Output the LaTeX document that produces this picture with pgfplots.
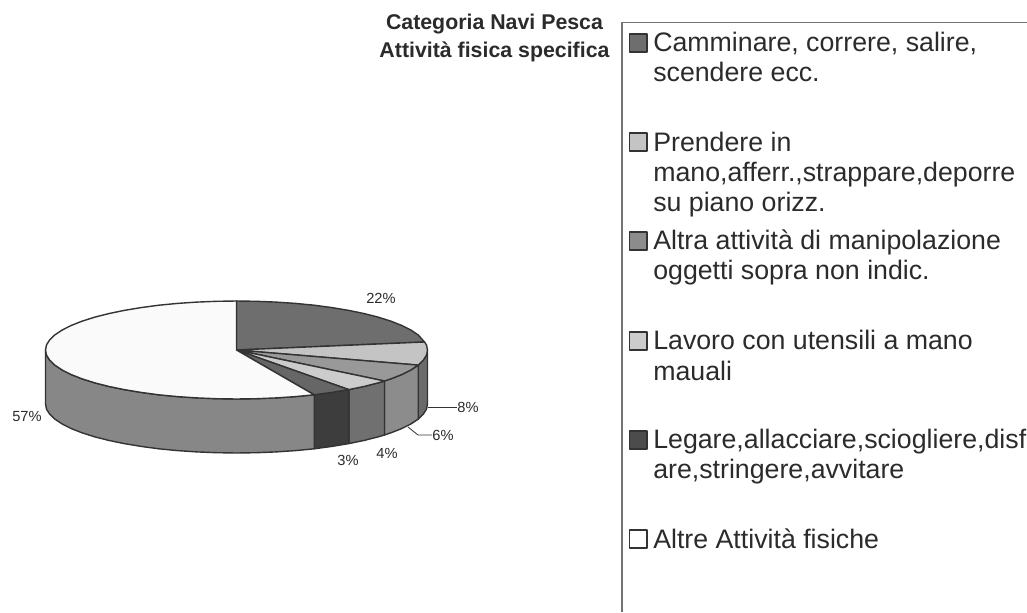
\documentclass[border=0pt]{standalone}
\usepackage{pgfplots}
\pgfplotsset{compat=1.18}
\usepackage{fontspec}
\setmainfont{Liberation Sans}
\definecolor{ink}{HTML}{2B2B2B}
\definecolor{edge}{HTML}{333333}
\newcommand{\lab}[3]{\node[anchor=base west,inner sep=0pt,font=\fontsize{20.05}{20.05}\selectfont,text=ink] at (axis cs:{#1-236.5},{350-#2}) {#3};}
\newcommand{\pct}[3]{\node[inner sep=0pt,font=\fontsize{11}{11}\selectfont,text=ink] at (axis cs:{#1-236.5},{350-#2}) {#3};}
\newcommand{\ttl}[2]{\node[anchor=base,inner sep=0pt,font=\fontsize{16}{16}\selectfont\bfseries,text=ink] at (axis cs:{494.5-236.5},{350-#1}) {#2};}
\begin{document}
\begin{tikzpicture}
\path[use as bounding box] (0,0) rectangle (770.25pt,459pt);
\begin{axis}[
  at={(0,0)},anchor=south west,scale only axis,width=770.25pt,height=459pt,
  xmin=-236.5,xmax=790.5,ymin=-262,ymax=350,hide axis,
  every axis plot/.style={draw=edge,line width=1.05pt,line join=round}]
% legend frame
\addplot[draw=black!55,line width=1.1pt] coordinates {(385.5,-262) (385.5,327.5) (790.5,327.5)};
% leader lines
\addplot[draw=edge,line width=0.6pt] coordinates {(191.5,-57) (220.5,-57)};
\addplot[draw=edge,line width=0.6pt] coordinates {(171.5,-77) (181.5,-85) (195.5,-85)};
% side walls
\addplot[fill=black!58] coordinates {(191,0)(190,-5.1)(186.8,-10.2)(181.7,-15.1)(181.7,-69.1)(186.8,-64.2)(190,-59.1)(191,-54)} -- cycle;
\addplot[fill=black!45] coordinates {(181.7,-15.1)(174.5,-19.9)(165.4,-24.5)(154.5,-28.8)(148,-31)(148,-85)(154.5,-82.8)(165.4,-78.5)(174.5,-73.9)(181.7,-69.1)} -- cycle;
\addplot[fill=black!56] coordinates {(148,-31)(141.9,-32.8)(127.8,-36.4)(112.3,-39.6)(112.3,-93.6)(127.8,-90.4)(141.9,-86.8)(148,-85)} -- cycle;
\addplot[fill=black!76] coordinates {(112.3,-39.6)(95.5,-42.4)(77.7,-44.8)(77.7,-98.8)(95.5,-96.4)(112.3,-93.6)} -- cycle;
\addplot[fill=black!47] coordinates {(77.7,-44.8)(59,-46.6)(39.7,-47.9)(20,-48.7)(0,-49)(-20,-48.7)(-39.7,-47.9)(-59,-46.6)(-77.7,-44.8)(-95.5,-42.4)(-112.3,-39.6)(-127.8,-36.4)(-141.9,-32.8)(-154.5,-28.8)(-165.4,-24.5)(-174.5,-19.9)(-181.7,-15.1)(-186.8,-10.2)(-190,-5.1)(-191,0)(-191,-54)(-190,-59.1)(-186.8,-64.2)(-181.7,-69.1)(-174.5,-73.9)(-165.4,-78.5)(-154.5,-82.8)(-141.9,-86.8)(-127.8,-90.4)(-112.3,-93.6)(-95.5,-96.4)(-77.7,-98.8)(-59,-100.6)(-39.7,-101.9)(-20,-102.7)(0,-103)(20,-102.7)(39.7,-101.9)(59,-100.6)(77.7,-98.8)} -- cycle;
% top wedges
\addplot[fill=black!57] coordinates {(0,0)(0,49)(20,48.7)(39.7,47.9)(59,46.6)(77.7,44.8)(95.5,42.4)(112.3,39.6)(127.8,36.4)(141.9,32.8)(154.5,28.8)(165.4,24.5)(174.5,19.9)(181.7,15.1)(188,8)} -- cycle;
\addplot[fill=black!23] coordinates {(0,0)(188,8)(190,5.1)(191,0)(190,-5.1)(186.8,-10.2)(181.7,-15.1)} -- cycle;
\addplot[fill=black!40] coordinates {(0,0)(181.7,-15.1)(174.5,-19.9)(165.4,-24.5)(154.5,-28.8)(148,-31)} -- cycle;
\addplot[fill=black!20] coordinates {(0,0)(148,-31)(141.9,-32.8)(127.8,-36.4)(112.3,-39.6)} -- cycle;
\addplot[fill=black!60] coordinates {(0,0)(112.3,-39.6)(95.5,-42.4)(77.7,-44.8)} -- cycle;
\addplot[fill=black!2] coordinates {(0,0)(77.7,-44.8)(59,-46.6)(39.7,-47.9)(20,-48.7)(0,-49)(-20,-48.7)(-39.7,-47.9)(-59,-46.6)(-77.7,-44.8)(-95.5,-42.4)(-112.3,-39.6)(-127.8,-36.4)(-141.9,-32.8)(-154.5,-28.8)(-165.4,-24.5)(-174.5,-19.9)(-181.7,-15.1)(-186.8,-10.2)(-190,-5.1)(-191,0)(-190,5.1)(-186.8,10.2)(-181.7,15.1)(-174.5,19.9)(-165.4,24.5)(-154.5,28.8)(-141.9,32.8)(-127.8,36.4)(-112.3,39.6)(-95.5,42.4)(-77.7,44.8)(-59,46.6)(-39.7,47.9)(-20,48.7)(0,49)} -- cycle;
% legend keys
\addplot[fill=black!57] coordinates {(393,316)(410.5,316)(410.5,298)(393,298)} -- cycle;
\addplot[fill=black!23] coordinates {(393,217)(410.5,217)(410.5,199)(393,199)} -- cycle;
\addplot[fill=black!45] coordinates {(393,118)(410.5,118)(410.5,100)(393,100)} -- cycle;
\addplot[fill=black!20] coordinates {(393,18)(410.5,18)(410.5,0)(393,0)} -- cycle;
\addplot[fill=black!70] coordinates {(393,-81)(410.5,-81)(410.5,-99)(393,-99)} -- cycle;
\addplot[fill=white] coordinates {(393,-180)(410.5,-180)(410.5,-198)(393,-198)} -- cycle;
% title
\ttl{30}{Categoria Navi Pesca}
\ttl{58}{Attività fisica specifica}
% legend text
\lab{653}{52}{Camminare, correre, salire,}
\lab{653}{82}{scendere ecc.}
\lab{653}{151}{Prendere in}
\lab{653}{181}{mano,afferr.,strappare,deporre}
\lab{653}{211}{su piano orizz.}
\lab{653}{249}{Altra attività di manipolazione}
\lab{653}{279}{oggetti sopra non indic.}
\lab{653}{349}{Lavoro con utensili a mano}
\lab{653}{380}{mauali}
\lab{653}{448}{Legare,allacciare,sciogliere,disf}
\lab{653}{478}{are,stringere,avvitare}
\lab{653}{548}{Altre Attività fisiche}
% percentages
\pct{381}{298}{22\%}
\pct{468}{407}{8\%}
\pct{443}{435}{6\%}
\pct{387}{453}{4\%}
\pct{348}{460}{3\%}
\pct{27}{416}{57\%}
\end{axis}
\end{tikzpicture}
\end{document}
